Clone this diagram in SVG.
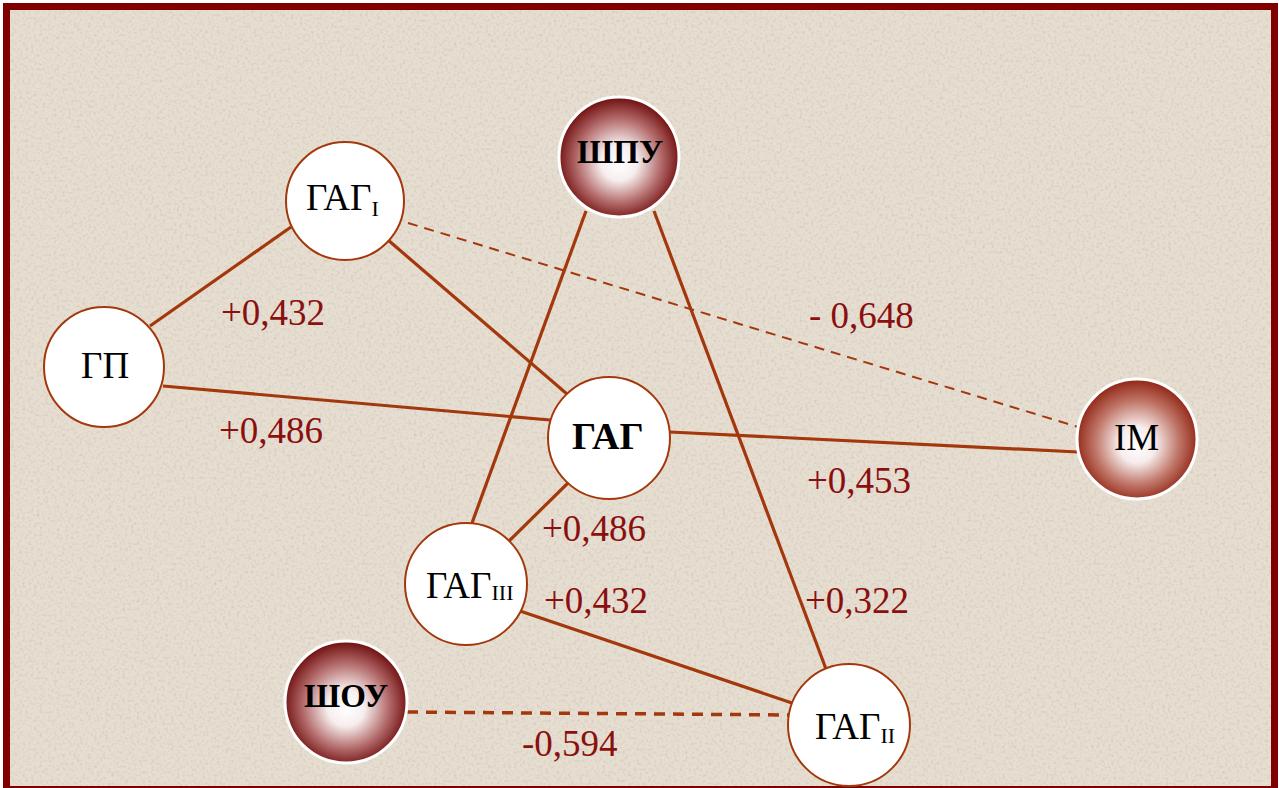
<svg xmlns="http://www.w3.org/2000/svg" width="1279" height="788" viewBox="0 0 1279 788">
<defs>
<radialGradient id="gDark" cx="0.5" cy="0.52" r="0.5" fx="0.5" fy="0.56">
<stop offset="0" stop-color="#ffffff"/>
<stop offset="0.3" stop-color="#f7eeee"/>
<stop offset="0.7" stop-color="#b46c6c"/>
<stop offset="1" stop-color="#761717"/>
</radialGradient>
<radialGradient id="gIM" cx="0.5" cy="0.52" r="0.5" fx="0.5" fy="0.56">
<stop offset="0" stop-color="#ffffff"/>
<stop offset="0.3" stop-color="#f7eded"/>
<stop offset="0.7" stop-color="#c07668"/>
<stop offset="1" stop-color="#952d1d"/>
</radialGradient>
<filter id="tex" x="0" y="0" width="100%" height="100%">
<feTurbulence type="fractalNoise" baseFrequency="0.35" numOctaves="2" seed="3" result="n"/>
<feColorMatrix type="matrix" values="0 0 0 0 0.45  0 0 0 0 0.38  0 0 0 0 0.30  0 0 0 1.6 -0.75" in="n"/>
</filter>
<style>
.ln{stroke:#a3380c;stroke-width:3.2;fill:none}
.ds{stroke:#a3380c;stroke-width:2;stroke-dasharray:10 7;fill:none}
.dt{stroke:#a3380c;stroke-width:3.5;stroke-dasharray:11 8;fill:none}
.wn{fill:#ffffff;stroke:#a3380c;stroke-width:2}
.dn{stroke:#ffffff;stroke-width:3}
.t{font-family:"Liberation Serif","Times New Roman",serif;font-size:37px;fill:#000}
.b{font-weight:bold}
.s{font-size:22px}
.v{font-family:"Liberation Serif","Times New Roman",serif;font-size:37px;fill:#8a1010}
</style>
</defs>
<rect x="0" y="0" width="1279" height="788" fill="#ffffff"/>
<rect x="6" y="6" width="1269" height="784" fill="#e7ded2"/>
<rect x="6" y="6" width="1269" height="784" filter="url(#tex)" opacity="0.5"/>
<rect x="6.5" y="6.5" width="1268" height="783" fill="none" stroke="#800000" stroke-width="7"/>
<g id="connectors">
<line class="ln" x1="150" y1="326" x2="291" y2="227"/>
<line class="ln" x1="163" y1="386" x2="550" y2="420"/>
<line class="ln" x1="388" y1="240" x2="567" y2="394"/>
<line class="ds" x1="408" y1="223" x2="1078" y2="427"/>
<line class="ln" x1="586" y1="211" x2="472" y2="523"/>
<line class="ln" x1="654" y1="211" x2="826" y2="669"/>
<line class="ln" x1="670" y1="432" x2="1078" y2="452"/>
<line class="ln" x1="568" y1="483" x2="508" y2="542"/>
<line class="ln" x1="520" y1="611" x2="792" y2="703"/>
<line class="dt" x1="407" y1="712" x2="790" y2="715"/>
</g>
<g id="labels">
<text class="v" x="221" y="325">+0,432</text>
<text class="v" x="809" y="328">- 0,648</text>
<text class="v" x="219" y="443">+0,486</text>
<text class="v" x="807" y="493">+0,453</text>
<text class="v" x="542" y="541">+0,486</text>
<text class="v" x="544" y="613">+0,432</text>
<text class="v" x="805" y="613">+0,322</text>
<text class="v" x="522" y="756">-0,594</text>
</g>
<g id="node-gp">
<circle class="wn" cx="104" cy="367" r="60"/>
<text class="t" x="81" y="378">ГП</text>
</g>
<g id="node-gag1">
<circle class="wn" cx="345" cy="201" r="59"/>
<text class="t" x="306" y="210">ГАГ<tspan class="s" dy="6">I</tspan></text>
</g>
<g id="node-shpu">
<circle class="dn" cx="619" cy="157" r="60" fill="url(#gDark)"/>
<text class="t b" x="577" y="163" style="font-size:33px">ШПУ</text>
</g>
<g id="node-gag">
<circle class="wn" cx="609" cy="438" r="61"/>
<text class="t b" x="572" y="449" style="font-size:38px">ГАГ</text>
</g>
<g id="node-im">
<circle class="dn" cx="1137" cy="439" r="60" fill="url(#gIM)"/>
<text class="t" x="1114" y="450">IM</text>
</g>
<g id="node-gag3">
<circle class="wn" cx="466" cy="584" r="61"/>
<text class="t" x="426" y="598">ГАГ<tspan class="s" dy="2">III</tspan></text>
</g>
<g id="node-shou">
<circle class="dn" cx="346" cy="702" r="61" fill="url(#gDark)"/>
<text class="t b" x="304" y="707" style="font-size:33px">ШОУ</text>
</g>
<g id="node-gag2">
<circle class="wn" cx="849" cy="725" r="61"/>
<text class="t" x="815" y="739">ГАГ<tspan class="s" dy="4">II</tspan></text>
</g>
</svg>
